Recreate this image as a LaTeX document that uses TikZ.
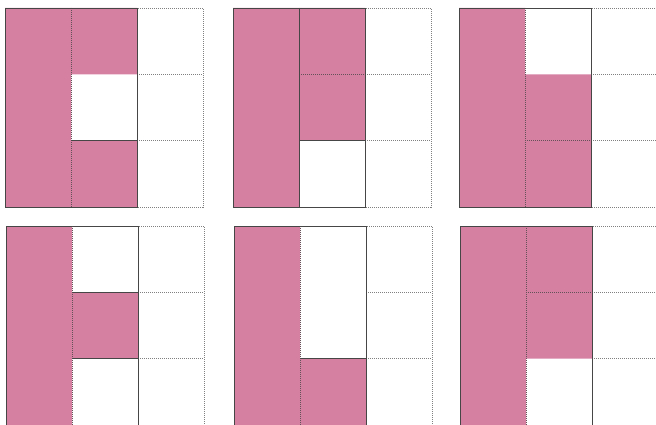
\documentclass[tikz,border=0pt]{standalone}
\definecolor{pinkfill}{RGB}{214,128,161}
\definecolor{edge}{RGB}{70,70,70}
\tikzset{
  cellfill/.style={fill=pinkfill,draw=none},
  solidline/.style={draw=edge,line width=0.7pt},
  dotline/.style={draw=gray,line width=0.6pt,dash pattern=on 1pt off 1pt},
  innerdot/.style={draw=edge!80!pinkfill,line width=0.6pt,dash pattern=on 1pt off 1pt},
  panel/.style={x=66pt,y=-66.3pt}
}
\begin{document}
\begin{tikzpicture}[x=1pt,y=-1pt]
\useasboundingbox (0,0) rectangle (656,425);
\clip (0,0) rectangle (656,425);
% Panel 1
\begin{scope}[shift={(5,8)},panel]
  \fill[cellfill] (0,0) rectangle (1,3) (1,0) rectangle (2,1) (1,2) rectangle (2,3);
  \draw[dotline] (2,0) rectangle (3,3) (2,1) -- (3,1) (2,2) -- (3,2);
  \draw[innerdot] (1,0) -- (1,3);
  \draw[solidline] (0,0) rectangle (2,3) (1,2) -- (2,2);
\end{scope}
% Panel 2
\begin{scope}[shift={(233,8)},panel]
  \fill[cellfill] (0,0) rectangle (1,3) (1,0) rectangle (2,2);
  \draw[dotline] (2,0) rectangle (3,3) (2,1) -- (3,1) (2,2) -- (3,2);
  \draw[innerdot] (1,1) -- (2,1);
  \draw[solidline] (0,0) rectangle (2,3) (1,0) -- (1,3) (1,2) -- (2,2);
\end{scope}
% Panel 3
\begin{scope}[shift={(459,8)},panel]
  \fill[cellfill] (0,0) rectangle (1,3) (1,1) rectangle (2,3);
  \draw[dotline] (2,0) rectangle (3,3) (2,1) -- (3,1) (2,2) -- (3,2);
  \draw[innerdot] (1,0) -- (1,3) (1,2) -- (2,2);
  \draw[solidline] (0,0) rectangle (2,3);
\end{scope}
% Panel 4
\begin{scope}[shift={(6,226)},panel]
  \fill[cellfill] (0,0) rectangle (1,3) (1,1) rectangle (2,2);
  \draw[dotline] (2,0) rectangle (3,3) (2,1) -- (3,1) (2,2) -- (3,2);
  \draw[innerdot] (1,0) -- (1,3);
  \draw[solidline] (0,0) rectangle (2,3) (1,1) -- (2,1) (1,2) -- (2,2);
\end{scope}
% Panel 5
\begin{scope}[shift={(234,226)},panel]
  \fill[cellfill] (0,0) rectangle (1,3) (1,2) rectangle (2,3);
  \draw[dotline] (2,0) rectangle (3,3) (2,1) -- (3,1) (2,2) -- (3,2);
  \draw[innerdot] (1,0) -- (1,3);
  \draw[solidline] (0,0) rectangle (2,3) (1,2) -- (2,2);
\end{scope}
% Panel 6
\begin{scope}[shift={(460,226)},panel]
  \fill[cellfill] (0,0) rectangle (1,3) (1,0) rectangle (2,2);
  \draw[dotline] (2,0) rectangle (3,3) (2,1) -- (3,1) (2,2) -- (3,2);
  \draw[innerdot] (1,0) -- (1,3) (1,1) -- (2,1);
  \draw[solidline] (0,0) rectangle (2,3);
\end{scope}
\end{tikzpicture}
\end{document}
